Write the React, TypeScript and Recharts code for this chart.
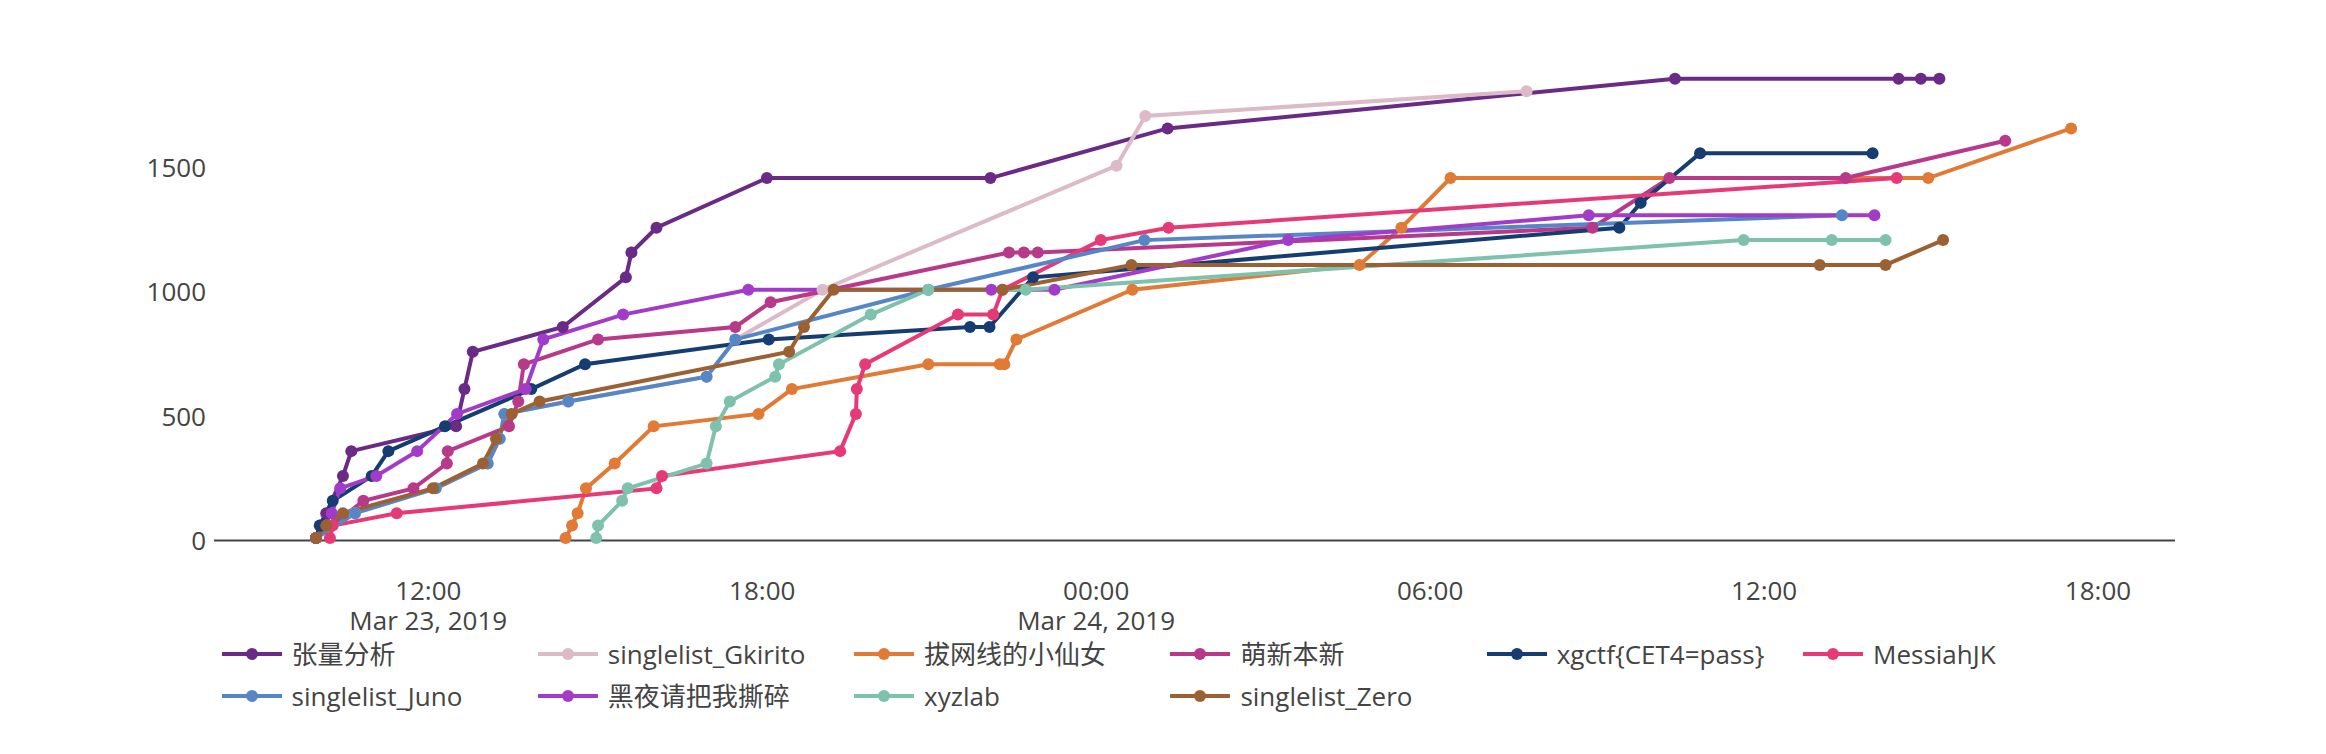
import React from 'react';
import { LineChart, Line, XAxis, YAxis, Legend } from 'recharts';

const FONT = '"Open Sans", "Noto Sans CJK SC", sans-serif';
const TEXT = '#444';
const FS = 26;

const seriesNames = [
  '张量分析',
  'singlelist_Gkirito',
  '拔网线的小仙女',
  '萌新本新',
  'xgctf{CET4=pass}',
  'MessiahJK',
  'singlelist_Juno',
  '黑夜请把我撕碎',
  'xyzlab',
  'singlelist_Zero',
];

const seriesColors = [
  '#6a2a86',
  '#dcbac8',
  '#e07a35',
  '#b8398a',
  '#153d72',
  '#e63a78',
  '#5686c5',
  '#a23cc8',
  '#7ec1ac',
  '#9b6132',
];

// times are "day HH:MM" in March 2019
const zlfxTimes = ['23 09:59', '23 10:04', '23 10:10', '23 10:28', '23 10:37', '23 12:30', '23 12:39', '23 12:48', '23 14:25', '23 15:33', '23 15:39', '23 16:06', '23 18:05', '23 22:06', '24 01:17', '24 10:24', '24 14:25', '24 14:49', '24 15:09'];
const zlfxScores = [10, 60, 110, 260, 360, 460, 610, 760, 860, 1060, 1160, 1260, 1460, 1460, 1660, 1860, 1860, 1860, 1860];

const gkiritoTimes = ['23 09:59', '23 10:41', '23 12:08', '23 13:04', '23 13:17', '23 13:22', '23 14:31', '23 17:00', '23 17:31', '23 19:05', '24 00:22', '24 00:53', '24 07:44'];
const gkiritoScores = [10, 110, 210, 310, 410, 510, 560, 660, 810, 1010, 1510, 1710, 1810];

const bwxTimes = ['23 14:28', '23 14:35', '23 14:41', '23 14:50', '23 15:21', '23 16:03', '23 17:56', '23 18:32', '23 20:59', '23 22:16', '23 22:21', '23 22:34', '24 00:39', '24 04:44', '24 05:29', '24 06:22', '24 14:57', '24 17:31'];
const bwxScores = [10, 60, 110, 210, 310, 460, 510, 610, 710, 710, 710, 810, 1010, 1110, 1260, 1460, 1460, 1660];

const mxbxTimes = ['23 09:59', '23 10:50', '23 11:44', '23 12:20', '23 12:21', '23 13:27', '23 13:37', '23 13:43', '23 15:03', '23 17:31', '23 18:09', '23 22:26', '23 22:42', '23 22:57', '24 08:55', '24 10:18', '24 13:28', '24 16:20'];
const mxbxScores = [10, 160, 210, 310, 360, 460, 560, 710, 810, 860, 960, 1160, 1160, 1160, 1260, 1460, 1460, 1610];

const xgctfTimes = ['23 09:59', '23 10:03', '23 10:17', '23 10:59', '23 11:17', '23 12:18', '23 13:51', '23 14:49', '23 18:07', '23 21:44', '23 22:05', '23 22:52', '24 09:24', '24 09:47', '24 10:51', '24 13:57'];
const xgctfScores = [10, 60, 160, 260, 360, 460, 610, 710, 810, 860, 860, 1060, 1260, 1360, 1560, 1560];

const messiahTimes = ['23 10:14', '23 10:17', '23 11:26', '23 16:06', '23 16:12', '23 19:24', '23 19:41', '23 19:42', '23 19:51', '23 21:31', '23 22:09', '23 22:19', '24 00:05', '24 01:18', '24 14:23'];
const messiahScores = [10, 60, 110, 210, 260, 360, 510, 610, 710, 910, 910, 1010, 1210, 1260, 1460];

const junoTimes = ['23 09:59', '23 10:41', '23 12:08', '23 13:04', '23 13:17', '23 13:22', '23 14:31', '23 17:00', '23 17:31', '23 20:59', '24 00:52', '24 13:24'];
const junoScores = [10, 110, 210, 310, 410, 510, 560, 660, 810, 1010, 1210, 1310];

const hyTimes = ['23 09:59', '23 10:16', '23 10:25', '23 11:04', '23 11:48', '23 12:31', '23 13:45', '23 14:04', '23 15:30', '23 17:45', '23 22:07', '23 23:15', '24 03:27', '24 08:51', '24 13:59'];
const hyScores = [10, 110, 210, 260, 360, 510, 610, 810, 910, 1010, 1010, 1010, 1210, 1310, 1310];

const xyzTimes = ['23 15:01', '23 15:03', '23 15:29', '23 15:35', '23 17:00', '23 17:10', '23 17:25', '23 18:14', '23 18:18', '23 19:57', '23 20:59', '23 22:44', '24 11:38', '24 13:13', '24 14:11'];
const xyzScores = [10, 60, 160, 210, 310, 460, 560, 660, 710, 910, 1010, 1010, 1210, 1210, 1210];

const zeroTimes = ['23 09:59', '23 10:10', '23 10:28', '23 12:05', '23 12:59', '23 13:13', '23 13:30', '23 14:00', '23 18:29', '23 18:45', '23 19:17', '23 22:19', '24 00:38', '24 13:00', '24 14:11', '24 15:13'];
const zeroScores = [10, 60, 110, 210, 310, 410, 510, 560, 760, 860, 1010, 1010, 1110, 1110, 1110, 1210];

const seriesTimes = [zlfxTimes, gkiritoTimes, bwxTimes, mxbxTimes, xgctfTimes, messiahTimes, junoTimes, hyTimes, xyzTimes, zeroTimes];
const seriesScores = [zlfxScores, gkiritoScores, bwxScores, mxbxScores, xgctfScores, messiahScores, junoScores, hyScores, xyzScores, zeroScores];

const xTickTimes = ['23 12:00', '23 18:00', '24 00:00', '24 06:00', '24 12:00', '24 18:00'];
const xTickLabels = ['12:00', '18:00', '00:00', '06:00', '12:00', '18:00'];
const xTickDates = ['Mar 23, 2019', '', 'Mar 24, 2019', '', '', ''];
const yTicks = [0, 500, 1000, 1500];

const xRange = ['23 08:09', '24 19:23'];
const yRange = [0, 2000];

// minutes since 2019-03-23 00:00
const parseTime = (s: string): number => {
  const [d, hm] = s.split(' ');
  const [h, m] = hm.split(':').map(Number);
  return (Number(d) - 23) * 1440 + h * 60 + m;
};

const seriesData = seriesTimes.map((times, i) =>
  times.map((t, j) => ({ t: parseTime(t), v: seriesScores[i][j] }))
);
const xTickValues = xTickTimes.map(parseTime);

const XTick = (props: any) => {
  const { x, y, payload } = props;
  const idx = xTickValues.indexOf(payload.value);
  const label = idx >= 0 ? xTickLabels[idx] : '';
  const date = idx >= 0 ? xTickDates[idx] : '';
  return (
    <text x={x} y={y + 51} textAnchor="middle" fill={TEXT} fontSize={FS} fontFamily={FONT}>
      <tspan x={x}>{label}</tspan>
      {date ? (
        <tspan x={x} dy={30}>
          {date}
        </tspan>
      ) : null}
    </text>
  );
};

const renderLegend = () => (
  <div style={{ position: 'relative', width: 2326, height: 754, fontFamily: FONT }}>
    {seriesNames.map((name, i) => {
      const row = i < 6 ? 0 : 1;
      const col = i < 6 ? i : i - 6;
      const left = 211.5 + col * 316.3;
      const cy = row === 0 ? 654 : 696;
      const color = seriesColors[i];
      return (
        <div
          key={name}
          style={{
            position: 'absolute',
            left,
            top: cy - 20,
            height: 40,
            display: 'flex',
            alignItems: 'center',
            whiteSpace: 'nowrap',
          }}
        >
          <svg width={80} height={40} style={{ display: 'block' }}>
            <line x1={10} x2={70} y1={20} y2={20} stroke={color} strokeWidth={4} />
            <circle cx={40} cy={20} r={6} fill={color} />
          </svg>
          <span style={{ fontSize: FS, color: TEXT, lineHeight: '40px' }}>{name}</span>
        </div>
      );
    })}
  </div>
);

export default function App() {
  return (
    <div style={{ position: 'absolute', left: 0, top: 0, background: '#fff' }}>
      <LineChart
        width={2326}
        height={754}
        margin={{ top: 44, right: 151, bottom: 153.5, left: 114 }}
      >
        <XAxis
          type="number"
          dataKey="t"
          domain={[parseTime(xRange[0]), parseTime(xRange[1])]}
          ticks={xTickValues}
          tick={<XTick />}
          axisLine={{ stroke: '#444', strokeWidth: 2 }}
          tickLine={false}
          height={60}
          interval={0}
        />
        <YAxis
          type="number"
          domain={yRange}
          ticks={yTicks}
          width={100}
          axisLine={false}
          tickLine={false}
          tick={{ fill: TEXT, fontSize: FS, fontFamily: FONT }}
          interval={0}
        />
        <Legend
          layout="horizontal"
          verticalAlign="middle"
          align="center"
          wrapperStyle={{ left: 0, top: 0, width: 2326, height: 754, pointerEvents: 'none' }}
          content={renderLegend}
        />
        {seriesData.map((data, i) => (
          <Line
            key={seriesNames[i]}
            data={data}
            dataKey="v"
            name={seriesNames[i]}
            type="linear"
            stroke={seriesColors[i]}
            strokeWidth={4}
            dot={{ r: 6, fill: seriesColors[i], stroke: seriesColors[i], strokeWidth: 0 }}
            activeDot={false}
            isAnimationActive={false}
          />
        ))}
      </LineChart>
    </div>
  );
}
